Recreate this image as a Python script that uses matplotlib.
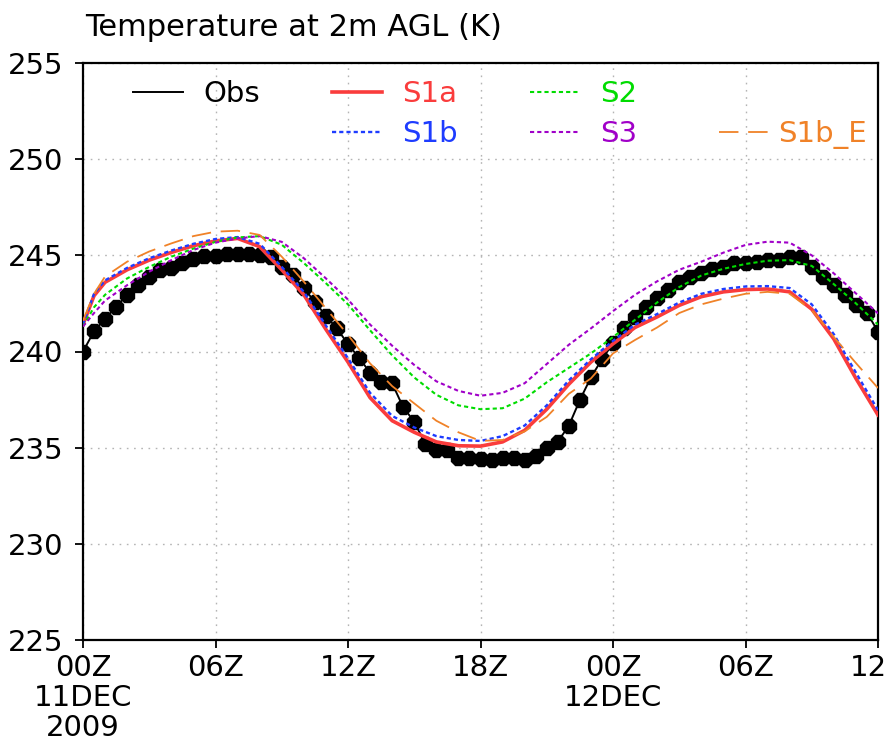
import matplotlib
matplotlib.use("Agg")
import matplotlib.pyplot as plt
import numpy as np

plt.rcParams['font.family'] = ['DejaVu Sans']
plt.rcParams['lines.scale_dashes'] = False

# hours since 00Z 11 Dec 2009
obs_hours = np.arange(0, 36.5, 0.5)
obs_temp = [
    240.0, 241.05, 241.7, 242.33, 242.94, 243.46, 243.86, 244.24, 244.36, 244.58,
    244.79, 244.96, 244.98, 245.05, 245.05, 245.05, 245.02, 244.93, 244.41, 243.98,
    243.28, 242.59, 241.84, 241.2, 240.38, 239.67, 238.9, 238.42, 238.34, 237.1,
    236.35, 235.19, 234.88, 234.88, 234.44, 234.44, 234.4, 234.37, 234.44, 234.44,
    234.37, 234.56, 234.96, 235.31, 236.14, 237.48, 238.65, 239.6, 240.42, 241.2,
    241.77, 242.3, 242.76, 243.2, 243.63, 243.86, 244.06, 244.27, 244.41, 244.58,
    244.58, 244.67, 244.76, 244.76, 244.93, 244.93, 244.41, 243.86, 243.46, 242.94,
    242.42, 242.02, 241.03,
]

model_hours = [0, 0.5] + list(range(1, 37))
s1a = [241.4, 242.9, 243.6, 244.25, 244.75, 245.15, 245.5, 245.75, 245.88, 245.45,
       244.25, 242.95, 241.15, 239.45, 237.6, 236.4, 235.8, 235.3, 235.1, 235.08,
       235.3, 235.9, 237.0, 238.3, 239.45, 240.4, 241.25, 241.8, 242.4, 242.85,
       243.1, 243.22, 243.25, 243.1, 242.2, 240.65, 238.6, 236.7]
s1b = [241.4, 243.0, 243.7, 244.35, 244.85, 245.25, 245.6, 245.85, 245.95, 245.6,
       244.4, 243.1, 241.35, 239.65, 237.85, 236.65, 236.05, 235.6, 235.4, 235.35,
       235.6, 236.15, 237.2, 238.5, 239.6, 240.55, 241.4, 241.95, 242.55, 243.0,
       243.25, 243.38, 243.4, 243.3, 242.45, 240.9, 238.9, 236.95]
s2 = [241.3, 242.3, 242.95, 243.8, 244.4, 244.93, 245.35, 245.7, 245.93, 246.0,
      245.55, 244.6, 243.55, 242.45, 241.1, 239.8, 238.65, 237.75, 237.2, 237.0,
      237.05, 237.55, 238.4, 239.15, 239.9, 240.75, 241.65, 242.55, 243.35, 243.95,
      244.3, 244.55, 244.72, 244.75, 244.45, 243.5, 242.5, 241.4]
s3 = [241.3, 242.0, 242.65, 243.45, 244.15, 244.75, 245.28, 245.66, 245.88, 246.0,
      245.7, 244.85, 243.8, 242.7, 241.4, 240.3, 239.3, 238.45, 237.95, 237.7,
      237.85, 238.35, 239.35, 240.35, 241.2, 242.1, 242.95, 243.65, 244.25, 244.67,
      245.14, 245.54, 245.71, 245.66, 245.0, 244.06, 243.02, 241.98]
s1b_e = [241.6, 243.0, 243.9, 244.67, 245.2, 245.62, 246.0, 246.23, 246.28, 246.06,
         244.93, 243.63, 242.24, 240.86, 239.38, 238.2, 237.3, 236.4, 235.8, 235.35,
         235.4, 235.85, 236.6, 237.8, 238.6, 239.9, 240.6, 241.25, 242.0, 242.45,
         242.75, 243.0, 243.1, 243.0, 242.15, 240.75, 239.4, 238.1]

xtick_hours = [0, 6, 12, 18, 24, 30, 36]
xtick_labels = ['00Z\n11DEC\n2009', '06Z', '12Z', '18Z', '00Z\n12DEC', '06Z', '12Z']
yticks = [225, 230, 235, 240, 245, 250, 255]

red = '#fa3c3c'
blue = '#1e3cff'
green = '#00dc00'
purple = '#a000c8'
orange = '#f08228'

fig = plt.figure(figsize=(8.85, 7.43), dpi=100)
ax = fig.add_axes([83 / 885, 1 - 640 / 743, 795 / 885, 577 / 743])

ax.plot(obs_hours, obs_temp, color='black', lw=1.4, marker='8', ms=11,
        mfc='black', mec='black', zorder=3)
ax.plot(model_hours, s1a, color=red, lw=2.6, zorder=4)
ax.plot(model_hours, s1b, color=blue, lw=1.7, dashes=(3, 2.2), zorder=4)
ax.plot(model_hours, s2, color=green, lw=1.5, dashes=(3, 2.2), zorder=4)
ax.plot(model_hours, s3, color=purple, lw=1.5, dashes=(3, 2.2), zorder=4)
ax.plot(model_hours, s1b_e, color=orange, lw=1.3, dashes=(14, 7), zorder=4)

ax.set_xlim(0, 36)
ax.set_ylim(225, 255)
ax.set_xticks(xtick_hours)
ax.set_xticklabels(xtick_labels, fontsize=21, linespacing=1.1)
ax.set_yticks(yticks)
ax.set_yticklabels([str(v) for v in yticks], fontsize=21)
ax.tick_params(direction='out', length=6, width=1.3, color='black')
ax.tick_params(axis='x', pad=4)
ax.tick_params(axis='y', pad=8)
ax.grid(True, color='#b4b4b4', linestyle=(0, (1.2, 4)), lw=1.0)
for sp in ax.spines.values():
    sp.set_linewidth(1.6)

fig.text(85 / 885, 1 - 36 / 743, 'Temperature at 2m AGL (K)', fontsize=22,
         ha='left', va='baseline')

# legend drawn in axes fraction
def key(x0, x1, y, text, tx, **style):
    ax.plot([x0, x1], [y, y], transform=ax.transAxes, clip_on=False, **style)
    ax.text(tx, y - 0.004, text, transform=ax.transAxes, fontsize=21,
            color=style['color'], ha='left', va='center')

row1 = 1 - (92 - 63) / 577
row2 = 1 - (132 - 63) / 577
key(0.063, 0.126, row1, 'Obs', 0.151, color='black', lw=1.4)
key(0.313, 0.376, row1, 'S1a', 0.401, color=red, lw=2.6)
key(0.562, 0.625, row1, 'S2', 0.650, color=green, lw=1.5, dashes=(3, 2.2))
key(0.313, 0.376, row2, 'S1b', 0.401, color=blue, lw=1.7, dashes=(3, 2.2))
key(0.562, 0.625, row2, 'S3', 0.650, color=purple, lw=1.5, dashes=(3, 2.2))
key(0.80, 0.863, row2, 'S1b_E', 0.874, color=orange, lw=1.3, dashes=(14, 7))

fig.savefig('out.png', dpi=100)
